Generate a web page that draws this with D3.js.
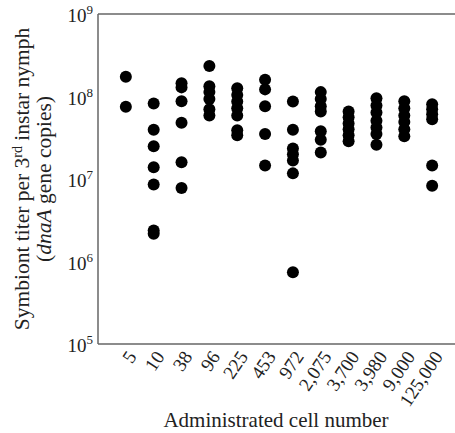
<!DOCTYPE html>
<html>
<head>
<meta charset="utf-8">
<script src="https://cdn.jsdelivr.net/npm/d3@7"></script>
<style>
  body { margin: 0; background: #fff; }
  text { font-family: "Liberation Serif", "DejaVu Serif", serif; fill: #222; }
  .dot { fill: #000; }
  .frame { stroke: #666; stroke-width: 1.5; }
</style>
</head>
<body>
<script>
// categories (administered cell number)
const cells = ["5", "10", "38", "96", "225", "453", "972", "2,075", "3,700", "3,980", "9,000", "125,000"];

// symbiont titer per nymph, one array per category
const titer5 = [1.73e8, 7.5e7];
const titer10 = [8.2e7, 3.96e7, 2.5e7, 1.39e7, 8.6e6, 2.37e6, 2.17e6];
const titer38 = [1.45e8, 1.29e8, 8.75e7, 4.8e7, 1.6e7, 7.8e6];
const titer96 = [2.35e8, 1.33e8, 1.13e8, 9.3e7, 7.0e7, 5.9e7];
const titer225 = [1.26e8, 1.04e8, 8.7e7, 7.2e7, 5.9e7, 3.9e7, 3.4e7];
const titer453 = [1.6e8, 1.22e8, 7.6e7, 3.5e7, 1.46e7];
const titer972 = [8.7e7, 3.96e7, 2.35e7, 1.99e7, 1.68e7, 1.17e7, 7.4e5];
const titer2075 = [1.13e8, 9.3e7, 7.6e7, 6.6e7, 3.8e7, 3.0e7, 2.1e7];
const titer3700 = [6.6e7, 5.6e7, 4.7e7, 4.0e7, 3.4e7, 2.86e7];
const titer3980 = [9.5e7, 7.8e7, 6.4e7, 5.1e7, 4.2e7, 3.5e7, 2.6e7];
const titer9000 = [8.75e7, 7.2e7, 5.9e7, 4.9e7, 4.0e7, 3.3e7];
const titer125000 = [8.05e7, 7.0e7, 6.1e7, 5.3e7, 1.46e7, 8.3e6];

const yTicks = [5, 6, 7, 8, 9];

const groups = [titer5, titer10, titer38, titer96, titer225, titer453, titer972,
  titer2075, titer3700, titer3980, titer9000, titer125000];
const points = [];
groups.forEach((vals, i) => vals.forEach(v => points.push({cell: cells[i], v: v})));

const W = 455, H = 433;
const plotLeft = 98, plotTop = 14, plotBottom = 344;

const svg = d3.select("body").append("svg")
  .attr("width", W)
  .attr("height", H);

const x = d3.scalePoint()
  .domain(cells)
  .range([plotLeft, 460])
  .padding(1);

const y = d3.scaleLog()
  .domain([1e5, 1e9])
  .range([plotBottom, plotTop]);

// frame: left, top and bottom lines (right side runs off the image)
svg.append("line").attr("class", "frame")
  .attr("x1", plotLeft).attr("x2", W).attr("y1", plotTop).attr("y2", plotTop);
svg.append("line").attr("class", "frame")
  .attr("x1", plotLeft).attr("x2", W).attr("y1", plotBottom).attr("y2", plotBottom);
svg.append("line").attr("class", "frame")
  .attr("x1", plotLeft).attr("x2", plotLeft).attr("y1", plotTop).attr("y2", plotBottom);

// y tick labels as 10^n
const yl = svg.append("g").selectAll("text")
  .data(yTicks)
  .enter().append("text")
  .attr("x", 93)
  .attr("y", d => y(Math.pow(10, d)) + 8)
  .attr("text-anchor", "end")
  .style("font-size", "19px");
yl.append("tspan").text("10");
yl.append("tspan").attr("dy", -8).style("font-size", "13px").text(d => d);

// x tick labels, rotated
svg.append("g").selectAll("text")
  .data(cells)
  .enter().append("text")
  .attr("transform", d => "translate(" + (x(d) + 6) + "," + (plotBottom + 9) + ") rotate(-56)")
  .attr("text-anchor", "end")
  .attr("dy", "0.35em")
  .style("font-size", "19px")
  .text(d => d);

// dots
svg.append("g").selectAll("circle")
  .data(points)
  .enter().append("circle")
  .attr("class", "dot")
  .attr("cx", d => x(d.cell))
  .attr("cy", d => y(d.v))
  .attr("r", 6);

// axis titles
svg.append("text")
  .attr("x", 276).attr("y", 427)
  .attr("text-anchor", "middle")
  .style("font-size", "21px")
  .text("Administrated cell number");

const yt = svg.append("g").attr("transform", "translate(0,179) rotate(-90)");
const t1 = yt.append("text").attr("x", 0).attr("y", 29)
  .attr("text-anchor", "middle").style("font-size", "21.5px");
t1.append("tspan").text("Symbiont titer per 3");
t1.append("tspan").attr("dy", -7).style("font-size", "14px").text("rd");
t1.append("tspan").attr("dy", 7).text(" instar nymph");
const t2 = yt.append("text").attr("x", 0).attr("y", 51)
  .attr("text-anchor", "middle").style("font-size", "21.5px");
t2.append("tspan").text("(");
t2.append("tspan").style("font-style", "italic").text("dnaA");
t2.append("tspan").text(" gene copies)");
</script>
</body>
</html>
